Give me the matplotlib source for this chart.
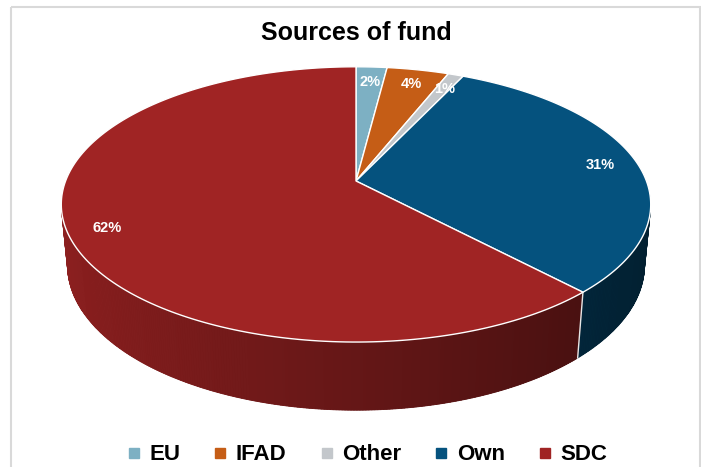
import numpy as np
import matplotlib.pyplot as plt
from matplotlib.patches import Polygon, Rectangle
from matplotlib.lines import Line2D

plt.rcParams['font.family'] = ['Liberation Sans', 'DejaVu Sans']

labels = ['EU', 'IFAD', 'Other', 'Own', 'SDC']
shares = [2, 4, 1, 31, 62]
colors = ['#7DB0C3', '#C55D16', '#C3C7CB', '#05527E', '#A02424']

# perspective camera for the 3D pie
tilt = np.radians(27.4)
dist = 5.22
thick = 0.238
scale = 1516
cx, cy = 356, 181


def project(phi, r=1.0, z=0.0):
    x = r * np.sin(phi)
    y = r * np.cos(phi)
    c, s = np.cos(tilt), np.sin(tilt)
    ry = y + dist * c
    rz = z - dist * s
    d = ry * c - rz * s
    sx = x / d
    sy = (ry * s + rz * c) / d
    return cx + scale * sx, cy - scale * sy


def shade(col, phi):
    rgb = np.array(plt.matplotlib.colors.to_rgb(col))
    f = 0.63 - 0.25 * np.sin(phi)
    return tuple(np.clip(rgb * f, 0, 1))


fig = plt.figure(figsize=(7.01, 4.67), dpi=100)
ax = fig.add_axes([0, 0, 1, 1])
ax.set_xlim(0, 701)
ax.set_ylim(467, 0)
ax.axis('off')

ax.add_patch(Rectangle((11, 7), 689, 470, fill=False, ec='#D9D9D9', lw=1.5))

fracs = np.array(shares) / np.sum(shares)
edges = np.concatenate([[0], np.cumsum(fracs)]) * 2 * np.pi
vis_lim = -1 / (dist * np.cos(tilt))

# side wall, only the part facing the camera
for i, col in enumerate(colors):
    a0, a1 = edges[i], edges[i + 1]
    n = max(int(np.degrees(a1 - a0) * 2), 2)
    ph = np.linspace(a0, a1, n + 1)
    ph = ph[np.cos(ph) < vis_lim]
    if len(ph) < 2:
        continue
    # solid underlay so the shaded strips leave no seams
    outline = [project(p) for p in ph] + [project(p, z=-thick) for p in ph[::-1]]
    base = shade(col, ph.mean())
    ax.add_patch(Polygon(outline, closed=True, fc=base, ec='none', zorder=2))
    for p0, p1 in zip(ph[:-1], ph[1:]):
        pts = [project(p0), project(p1), project(p1, z=-thick), project(p0, z=-thick)]
        c = shade(col, 0.5 * (p0 + p1))
        ax.add_patch(Polygon(pts, closed=True, fc=c, ec=c, lw=0.6, zorder=2.1))

# light seams on the side between slices
for e in edges[1:-1]:
    if np.cos(e) < vis_lim:
        x0, y0 = project(e)
        x1, y1 = project(e, z=-thick)
        ax.plot([x0, x1], [y0, y1], color='#E6E6E6', lw=1.0, zorder=3)

# top face
for i, col in enumerate(colors):
    ph = np.linspace(edges[i], edges[i + 1], 200)
    rim = [project(p) for p in ph]
    pts = [(cx, cy)] + rim
    ax.add_patch(Polygon(pts, closed=True, fc=col, ec='white', lw=1.0,
                         joinstyle='round', zorder=4))

# percentage labels
for i in range(len(shares)):
    mid = 0.5 * (edges[i] + edges[i + 1])
    lx, ly = project(mid, r=0.87)
    ax.text(lx, ly + 2, f'{shares[i]}%', color='white', fontsize=10.5,
            fontweight='bold', ha='center', va='center', zorder=5)

ax.text(356, 33, 'Sources of fund', fontsize=18, fontweight='bold',
        ha='center', va='center')

handles = [Line2D([], [], marker='s', ls='none', color=c, markersize=7)
           for c in colors]
ax.legend(handles, labels, loc='center', bbox_to_anchor=(365 / 701, 1 - 455 / 467),
          ncol=5, frameon=False, handletextpad=0.2, columnspacing=1.3,
          handlelength=1.0, prop={'weight': 'bold', 'size': 16})

fig.savefig('out.png', dpi=100)
